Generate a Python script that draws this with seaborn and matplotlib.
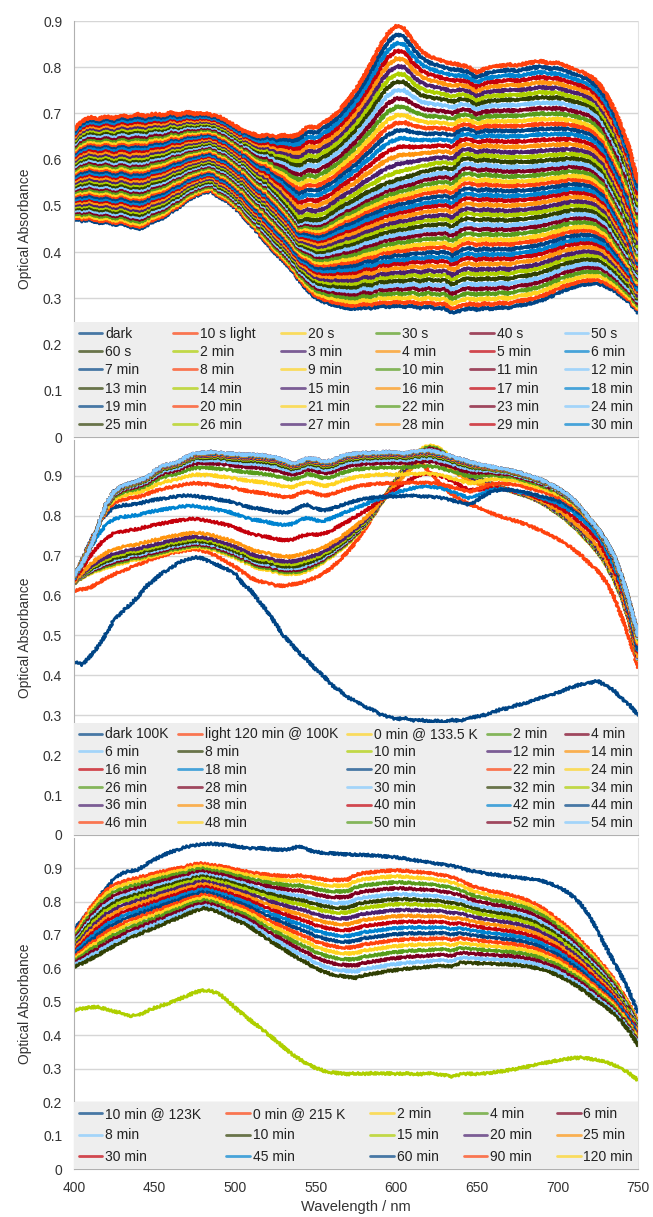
import numpy as np
import pandas as pd
import seaborn as sns
import matplotlib.pyplot as plt
from matplotlib.lines import Line2D

sns.set_style('white')
plt.rcParams['font.family'] = ['Liberation Sans', 'DejaVu Sans']

# LibreOffice 기본 팔레트 (12색 순환)
colors12 = ['#004586', '#ff420e', '#ffd320', '#579d1c', '#7e0021', '#83caff',
            '#314004', '#aecf00', '#4b1f6f', '#ff950e', '#c5000b', '#0084d1']

# 파장 (5 nm 간격)
wl = np.arange(400, 755, 5)

# ---------------- 패널 1 ----------------
dark1 = [0.472, 0.468, 0.471, 0.463, 0.466, 0.460, 0.462, 0.455, 0.449, 0.458,
         0.468, 0.474, 0.486, 0.497, 0.512, 0.521, 0.528, 0.532, 0.519, 0.511,
         0.496, 0.478, 0.459, 0.438, 0.418, 0.398, 0.381, 0.362, 0.338, 0.318,
         0.301, 0.293, 0.287, 0.283, 0.279, 0.277, 0.281, 0.278, 0.284, 0.282,
         0.285, 0.281, 0.284, 0.279, 0.282, 0.277, 0.279, 0.268, 0.274, 0.279,
         0.276, 0.279, 0.277, 0.281, 0.279, 0.284, 0.287, 0.291, 0.296, 0.303,
         0.311, 0.319, 0.324, 0.329, 0.331, 0.332, 0.326, 0.318, 0.305, 0.290,
         0.270]
mid1 = [0.590, 0.600, 0.606, 0.600, 0.604, 0.598, 0.603, 0.597, 0.598, 0.601,
        0.608, 0.610, 0.618, 0.620, 0.628, 0.630, 0.634, 0.636, 0.626, 0.620,
        0.606, 0.592, 0.578, 0.560, 0.548, 0.530, 0.512, 0.490, 0.466, 0.472,
        0.468, 0.474, 0.485, 0.497, 0.506, 0.515, 0.527, 0.533, 0.543, 0.550,
        0.556, 0.562, 0.566, 0.572, 0.577, 0.580, 0.582, 0.578, 0.600, 0.603,
        0.598, 0.600, 0.598, 0.596, 0.594, 0.596, 0.594, 0.596, 0.598, 0.600,
        0.600, 0.602, 0.603, 0.601, 0.596, 0.585, 0.566, 0.536, 0.500, 0.460,
        0.405]
top1 = [0.665, 0.684, 0.692, 0.688, 0.694, 0.690, 0.697, 0.692, 0.699, 0.694,
        0.700, 0.696, 0.702, 0.697, 0.703, 0.699, 0.701, 0.697, 0.693, 0.684,
        0.673, 0.662, 0.657, 0.651, 0.654, 0.649, 0.653, 0.650, 0.656, 0.672,
        0.669, 0.680, 0.691, 0.708, 0.728, 0.752, 0.781, 0.812, 0.846, 0.874,
        0.889, 0.884, 0.858, 0.836, 0.824, 0.818, 0.812, 0.808, 0.805, 0.800,
        0.788, 0.797, 0.801, 0.803, 0.806, 0.804, 0.808, 0.811, 0.813, 0.809,
        0.810, 0.803, 0.796, 0.790, 0.782, 0.768, 0.744, 0.710, 0.670, 0.620,
        0.550]
labels1 = (['dark', '10 s light', '20 s', '30 s', '40 s', '50 s', '60 s']
           + [f'{m} min' for m in range(2, 45)])
# 각 곡선의 진행도 (0: dark, 1: 중간, 2: 최종)
prog1 = [0.00, 0.03, 0.065, 0.10, 0.135, 0.165, 0.20, 0.235, 0.265, 0.30,
         0.335, 0.365, 0.40, 0.435, 0.465, 0.50, 0.535, 0.565, 0.60, 0.635,
         0.665, 0.70, 0.735, 0.765, 0.80, 0.835, 0.865, 0.90, 0.935, 0.965,
         1.00, 1.05, 1.10, 1.155, 1.21, 1.265, 1.32, 1.37, 1.42, 1.475,
         1.53, 1.585, 1.64, 1.69, 1.74, 1.79, 1.84, 1.89, 1.945, 2.00]

# ---------------- 패널 2 ----------------
dark2 = [0.435, 0.427, 0.448, 0.473, 0.505, 0.540, 0.560, 0.578, 0.598, 0.624,
         0.640, 0.658, 0.668, 0.683, 0.690, 0.696, 0.693, 0.683, 0.675, 0.666,
         0.655, 0.628, 0.612, 0.585, 0.560, 0.530, 0.500, 0.478, 0.455, 0.438,
         0.415, 0.398, 0.375, 0.362, 0.345, 0.335, 0.322, 0.315, 0.302, 0.296,
         0.290, 0.293, 0.287, 0.289, 0.284, 0.286, 0.283, 0.288, 0.286, 0.292,
         0.297, 0.301, 0.308, 0.315, 0.318, 0.326, 0.330, 0.337, 0.344, 0.350,
         0.356, 0.365, 0.372, 0.378, 0.381, 0.386, 0.374, 0.362, 0.342, 0.325,
         0.300]
light2 = [0.612, 0.616, 0.620, 0.632, 0.644, 0.654, 0.662, 0.670, 0.678, 0.686,
          0.694, 0.700, 0.706, 0.710, 0.714, 0.717, 0.712, 0.706, 0.695, 0.684,
          0.672, 0.658, 0.644, 0.636, 0.632, 0.626, 0.624, 0.628, 0.631, 0.638,
          0.645, 0.656, 0.670, 0.690, 0.710, 0.735, 0.764, 0.795, 0.828, 0.860,
          0.892, 0.925, 0.948, 0.935, 0.912, 0.890, 0.870, 0.852, 0.840, 0.830,
          0.822, 0.812, 0.805, 0.798, 0.792, 0.786, 0.779, 0.771, 0.763, 0.752,
          0.742, 0.730, 0.716, 0.700, 0.680, 0.662, 0.635, 0.598, 0.545, 0.488,
          0.420]
peak2 = [0.630, 0.645, 0.656, 0.663, 0.670, 0.676, 0.681, 0.686, 0.690, 0.695,
         0.700, 0.705, 0.710, 0.714, 0.718, 0.722, 0.720, 0.716, 0.710, 0.703,
         0.695, 0.685, 0.675, 0.668, 0.665, 0.658, 0.655, 0.654, 0.656, 0.662,
         0.672, 0.684, 0.698, 0.714, 0.730, 0.750, 0.772, 0.798, 0.828, 0.860,
         0.892, 0.922, 0.946, 0.966, 0.976, 0.972, 0.960, 0.943, 0.926, 0.910,
         0.898, 0.888, 0.879, 0.871, 0.864, 0.857, 0.851, 0.843, 0.833, 0.820,
         0.806, 0.790, 0.772, 0.752, 0.732, 0.708, 0.678, 0.640, 0.595, 0.530,
         0.440]
mid2 = [0.645, 0.690, 0.735, 0.775, 0.805, 0.822, 0.826, 0.828, 0.830, 0.836,
        0.840, 0.843, 0.846, 0.849, 0.851, 0.850, 0.846, 0.844, 0.840, 0.838,
        0.832, 0.826, 0.820, 0.818, 0.814, 0.810, 0.808, 0.810, 0.822, 0.828,
        0.818, 0.813, 0.818, 0.825, 0.832, 0.838, 0.842, 0.845, 0.847, 0.848,
        0.849, 0.850, 0.850, 0.849, 0.848, 0.846, 0.843, 0.838, 0.833, 0.828,
        0.838, 0.852, 0.862, 0.865, 0.865, 0.862, 0.858, 0.854, 0.849, 0.844,
        0.838, 0.829, 0.817, 0.803, 0.784, 0.761, 0.729, 0.687, 0.631, 0.556,
        0.466]
final2 = [0.650, 0.680, 0.720, 0.775, 0.830, 0.862, 0.875, 0.882, 0.888, 0.896,
          0.912, 0.925, 0.930, 0.936, 0.948, 0.956, 0.958, 0.960, 0.958, 0.956,
          0.955, 0.953, 0.954, 0.952, 0.950, 0.946, 0.940, 0.932, 0.935, 0.944,
          0.942, 0.936, 0.938, 0.948, 0.953, 0.956, 0.957, 0.958, 0.959, 0.960,
          0.958, 0.957, 0.960, 0.962, 0.963, 0.960, 0.955, 0.948, 0.942, 0.936,
          0.930, 0.926, 0.922, 0.918, 0.914, 0.910, 0.904, 0.897, 0.890, 0.880,
          0.870, 0.857, 0.840, 0.818, 0.792, 0.768, 0.738, 0.700, 0.648, 0.580,
          0.500]
labels2 = (['dark 100K', 'light 120 min @ 100K', '0 min @ 133.5 K']
           + [f'{m} min' for m in range(2, 56, 2)])
prog2 = [0.0, 0.03, 0.06, 0.09, 0.12, 0.16, 0.2, 0.28, 0.55, 0.8,
         1.0, 1.3, 1.5, 1.66, 1.76, 1.83, 1.88, 1.91, 1.93, 1.95,
         1.96, 1.97, 1.98, 1.985, 1.99, 1.995, 2.0, 2.0]

# ---------------- 패널 3 ----------------
top3 = [0.715, 0.745, 0.775, 0.808, 0.842, 0.868, 0.886, 0.891, 0.896, 0.912,
        0.926, 0.938, 0.948, 0.956, 0.964, 0.968, 0.972, 0.973, 0.971, 0.969,
        0.966, 0.962, 0.959, 0.960, 0.957, 0.956, 0.955, 0.958, 0.966, 0.955,
        0.948, 0.946, 0.944, 0.942, 0.941, 0.940, 0.940, 0.938, 0.936, 0.934,
        0.932, 0.929, 0.925, 0.921, 0.917, 0.914, 0.910, 0.906, 0.900, 0.893,
        0.889, 0.885, 0.881, 0.878, 0.875, 0.872, 0.869, 0.866, 0.862, 0.855,
        0.845, 0.832, 0.814, 0.790, 0.755, 0.712, 0.665, 0.620, 0.575, 0.525,
        0.470]
bundle_hi3 = [0.700, 0.740, 0.780, 0.810, 0.835, 0.850, 0.860, 0.866, 0.872, 0.878,
              0.884, 0.890, 0.895, 0.900, 0.906, 0.912, 0.914, 0.910, 0.906, 0.902,
              0.896, 0.892, 0.887, 0.884, 0.880, 0.878, 0.877, 0.876, 0.878, 0.874,
              0.870, 0.866, 0.865, 0.864, 0.866, 0.880, 0.886, 0.888, 0.890, 0.892,
              0.893, 0.892, 0.890, 0.888, 0.885, 0.882, 0.878, 0.872, 0.862, 0.850,
              0.842, 0.836, 0.830, 0.826, 0.820, 0.814, 0.806, 0.796, 0.782, 0.766,
              0.748, 0.728, 0.705, 0.680, 0.655, 0.628, 0.600, 0.568, 0.530, 0.488,
              0.440]
bundle_lo3 = [0.605, 0.615, 0.628, 0.640, 0.655, 0.668, 0.680, 0.692, 0.702, 0.712,
              0.722, 0.732, 0.742, 0.752, 0.762, 0.772, 0.780, 0.776, 0.768, 0.757,
              0.745, 0.735, 0.722, 0.705, 0.688, 0.672, 0.658, 0.642, 0.628, 0.615,
              0.600, 0.590, 0.582, 0.578, 0.574, 0.572, 0.580, 0.584, 0.588, 0.592,
              0.595, 0.598, 0.601, 0.603, 0.605, 0.607, 0.608, 0.606, 0.617, 0.616,
              0.615, 0.615, 0.614, 0.613, 0.612, 0.610, 0.607, 0.603, 0.597, 0.589,
              0.580, 0.568, 0.554, 0.538, 0.520, 0.502, 0.484, 0.464, 0.440, 0.410,
              0.370]
low3 = [0.475, 0.480, 0.484, 0.485, 0.478, 0.472, 0.466, 0.458, 0.460, 0.472,
        0.482, 0.490, 0.498, 0.508, 0.518, 0.528, 0.535, 0.532, 0.524, 0.505,
        0.482, 0.462, 0.443, 0.425, 0.405, 0.385, 0.365, 0.345, 0.328, 0.314,
        0.302, 0.294, 0.289, 0.286, 0.284, 0.286, 0.285, 0.287, 0.285, 0.286,
        0.284, 0.286, 0.285, 0.284, 0.286, 0.284, 0.281, 0.276, 0.283, 0.285,
        0.284, 0.286, 0.289, 0.292, 0.296, 0.300, 0.305, 0.310, 0.315, 0.320,
        0.325, 0.329, 0.332, 0.333, 0.330, 0.326, 0.320, 0.311, 0.300, 0.285,
        0.266]
labels3 = ['10 min @ 123K', '0 min @ 215 K', '2 min', '4 min', '6 min', '8 min',
           '10 min', '15 min', '20 min', '25 min', '30 min', '45 min', '60 min',
           '90 min', '120 min', '150 min', '180 min', '240 min', '300 min', '360 min']
prog3 = [0.0, 0.06, 0.12, 0.18, 0.24, 0.29, 0.34, 0.40, 0.46, 0.52,
         0.58, 0.64, 0.70, 0.76, 0.82, 0.88, 0.94, 1.0]


def mix(a, b, f):
    return (1 - f) * np.array(a) + f * np.array(b)


def three_state(a, b, c, t):
    if t <= 1:
        return mix(a, b, t)
    return mix(b, c, t - 1)


spectra1 = [three_state(dark1, mid1, top1, t) for t in prog1]
spectra2 = [np.array(dark2), np.array(light2)] + [three_state(peak2, mid2, final2, t) for t in prog2]
spectra3 = [np.array(top3)] + [mix(bundle_hi3, bundle_lo3, t) for t in prog3] + [np.array(low3)]


def long_df(spectra, labels):
    return pd.DataFrame({'wl': np.tile(wl, len(labels)),
                         'A': np.concatenate(spectra),
                         'series': np.repeat(labels, len(wl))})


def row_major(items, ncol):
    nrow = int(np.ceil(len(items) / ncol))
    return [items[r * ncol + c] for c in range(ncol) for r in range(nrow) if r * ncol + c < len(items)]


def draw_panel(ax, spectra, labels, ytop, nleg, ncol, labelspacing, show_x, lw=2.0):
    pal = [colors12[i % 12] for i in range(len(labels))]
    sns.lineplot(data=long_df(spectra, labels), x='wl', y='A', hue='series',
                 hue_order=labels, palette=pal, sort=False, estimator=None,
                 lw=lw, legend=False, ax=ax)
    # 측정 잡음처럼 보이도록 선에 약한 흔들림
    for line in ax.lines:
        line.set_sketch_params(scale=1.2, length=3.0, randomness=2.0)
        line.set_solid_joinstyle('round')

    ax.set_xlim(400, 750)
    ax.set_ylim(0, ytop)
    ax.set_yticks(np.arange(10) / 10)
    ax.set_yticklabels(['0'] + [f'0.{i}' for i in range(1, 10)])
    ax.set_xticks(range(400, 751, 50))
    ax.grid(axis='y', color='#d6d6d6', lw=1)
    ax.grid(axis='x', visible=False)
    ax.set_axisbelow(True)
    ax.spines['top'].set_visible(False)
    for s in ['left', 'bottom']:
        ax.spines[s].set_color('#b0b0b0')
    ax.spines['right'].set_color('#e2e2e2')
    ax.tick_params(axis='both', direction='out', length=5, width=1, color='#b0b0b0',
                   labelsize=10, labelcolor='#333333')
    if not show_x:
        ax.tick_params(axis='x', labelbottom=False)
    ax.set_xlabel('')
    ax.set_ylabel('Optical Absorbance', fontsize=10, color='#333333', labelpad=8)

    handles = [Line2D([], [], color=pal[i], lw=2.0, alpha=0.7) for i in range(nleg)]
    names = labels[:nleg]
    leg = ax.legend(row_major(handles, ncol), row_major(names, ncol),
                    loc='lower left', bbox_to_anchor=(0, 0, 1, 0.3), mode='expand',
                    ncol=ncol, fontsize=10, handlelength=1.7, handletextpad=0.2,
                    columnspacing=0.4, labelspacing=labelspacing, borderpad=0.35,
                    borderaxespad=0, frameon=True, fancybox=False, framealpha=1,
                    facecolor='#eeeeee', edgecolor='none')
    for t in leg.get_texts():
        t.set_color('#222222')


fig = plt.figure(figsize=(6.53, 12.17), dpi=100)
ax1 = fig.add_axes([0.1133, 0.6409, 0.8637, 0.3418])
ax2 = fig.add_axes([0.1133, 0.3139, 0.8637, 0.3246])
ax3 = fig.add_axes([0.1133, 0.0394, 0.8637, 0.2720])

draw_panel(ax1, spectra1, labels1, 0.9, 36, 6, 0.31, False, lw=2.3)
draw_panel(ax2, spectra2, labels2, 0.99, 30, 5, 0.27, False)
draw_panel(ax3, spectra3, labels3, 0.99, 15, 5, 0.56, True)

ax3.set_xlabel('Wavelength / nm', fontsize=10.5, color='#333333', labelpad=4)

fig.savefig('out.png', dpi=100)
